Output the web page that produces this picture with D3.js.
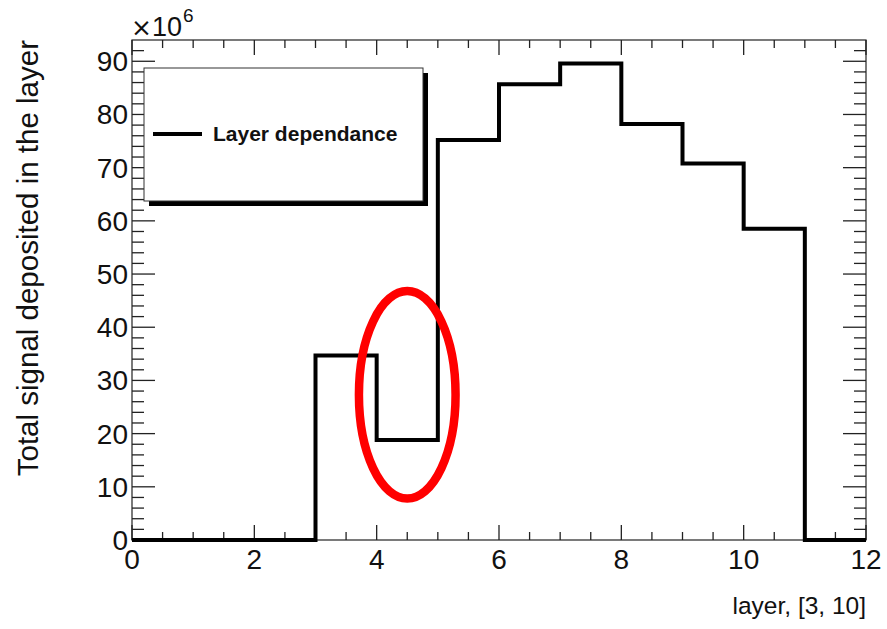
<!DOCTYPE html>
<html>
<head>
<meta charset="utf-8">
<script src="https://cdn.jsdelivr.net/npm/d3@7"></script>
<style>
  html, body { margin: 0; padding: 0; background: #fff; }
  svg { display: block; font-family: "Liberation Sans", Arial, Helvetica, sans-serif; }
</style>
</head>
<body>
<div id="chart"></div>
<script>
// bin edges along "layer" and signal per bin (units of 1e6)
const binEdges = [0, 1, 2, 3, 4, 5, 6, 7, 8, 9, 10, 11, 12];
const binValues = [0, 0, 0, 34.7, 18.8, 75.2, 85.7, 89.6, 78.2, 70.8, 58.5, 0];
const xTicks = [0, 2, 4, 6, 8, 10, 12];
const yTicks = [0, 10, 20, 30, 40, 50, 60, 70, 80, 90];
const legendLabel = 'Layer dependance';
const xTitle = 'layer, [3, 10]';
const yTitle = 'Total signal deposited in the layer';
// highlighted region (center in data coords, half-widths)
const marked = { x: 4.5, y: 27.3, dx: 0.79, dy: 19.5 };

const width = 887, height = 629;
const margin = { top: 40, right: 21, bottom: 89, left: 132 };
const innerW = width - margin.left - margin.right;
const innerH = height - margin.top - margin.bottom;

const svg = d3.select('#chart').append('svg').attr('width', width).attr('height', height);
const g = svg.append('g').attr('transform', `translate(${margin.left},${margin.top})`);

const x = d3.scaleLinear([0, 12], [0, innerW]);
const y = d3.scaleLinear([0, 94], [innerH, 0]);

// frame
g.append('rect').attr('width', innerW).attr('height', innerH)
  .attr('fill', 'none').attr('stroke', '#222').attr('stroke-width', 1.2);

// ticks (ROOT style: inward, mirrored on opposite sides)
const xMinor = d3.range(0, 12.001, 0.5);
const yMinor = d3.range(0, 94, 2);
const tickG = g.append('g').attr('stroke', '#222').attr('stroke-width', 1.3);
xMinor.forEach((v) => {
  const len = xTicks.includes(v) ? 15 : 8;
  tickG.append('line').attr('x1', x(v)).attr('x2', x(v)).attr('y1', innerH).attr('y2', innerH - len);
  tickG.append('line').attr('x1', x(v)).attr('x2', x(v)).attr('y1', 0).attr('y2', len);
});
yMinor.forEach((v) => {
  const len = yTicks.includes(v) ? 23 : 12;
  tickG.append('line').attr('y1', y(v)).attr('y2', y(v)).attr('x1', 0).attr('x2', len);
  tickG.append('line').attr('y1', y(v)).attr('y2', y(v)).attr('x1', innerW).attr('x2', innerW - len);
});

// tick labels
g.append('g').selectAll('text').data(xTicks).join('text')
  .attr('x', (d) => x(d)).attr('y', innerH + 29).attr('text-anchor', 'middle')
  .attr('font-size', 28).attr('fill', '#111').text((d) => d);
g.append('g').selectAll('text').data(yTicks).join('text')
  .attr('x', -4).attr('y', (d) => y(d) + 10).attr('text-anchor', 'end')
  .attr('font-size', 28).attr('fill', '#111').text((d) => d);

// exponent
const ex = svg.append('text').attr('x', margin.left - 1).attr('y', 36).attr('font-size', 27).attr('fill', '#111');
ex.append('tspan').attr('font-family', 'DejaVu Sans').attr('font-size', 25).text('×');
ex.append('tspan').text('10');
ex.append('tspan').attr('dy', -14).attr('dx', 1).attr('font-size', 19).text('6');

// axis titles
svg.append('text').attr('x', width - margin.right).attr('y', 614).attr('text-anchor', 'end')
  .attr('font-size', 24.5).attr('fill', '#111').text(xTitle);
svg.append('text').attr('transform', `translate(38,${margin.top}) rotate(-90)`)
  .attr('text-anchor', 'end').attr('font-size', 29.5).attr('fill', '#111').text(yTitle);

// histogram outline
const pts = binValues.map((v, i) => [binEdges[i], v]);
pts.push([binEdges[binEdges.length - 1], binValues[binValues.length - 1]]);
const line = d3.line().x((d) => x(d[0])).y((d) => y(d[1])).curve(d3.curveStepAfter);
g.append('path').datum(pts).attr('fill', 'none').attr('stroke', '#000')
  .attr('stroke-width', 4).attr('stroke-linejoin', 'miter').attr('d', line);

// legend box with shadow
const lg = svg.append('g').attr('transform', 'translate(144,68)');
lg.append('rect').attr('x', 5).attr('y', 5).attr('width', 279).attr('height', 133).attr('fill', '#000');
lg.append('rect').attr('width', 279).attr('height', 133).attr('fill', '#fff').attr('stroke', '#333').attr('stroke-width', 1);
lg.append('line').attr('x1', 9).attr('x2', 58).attr('y1', 66).attr('y2', 66).attr('stroke', '#000').attr('stroke-width', 4);
lg.append('text').attr('x', 69).attr('y', 73).attr('font-size', 21).attr('font-weight', 'bold')
  .attr('fill', '#111').text(legendLabel);

// red ellipse annotation
g.append('ellipse')
  .attr('cx', x(marked.x)).attr('cy', y(marked.y))
  .attr('rx', x(marked.x + marked.dx) - x(marked.x))
  .attr('ry', y(marked.y) - y(marked.y + marked.dy))
  .attr('fill', 'none').attr('stroke', '#f00').attr('stroke-width', 8.5);
</script>
</body>
</html>
